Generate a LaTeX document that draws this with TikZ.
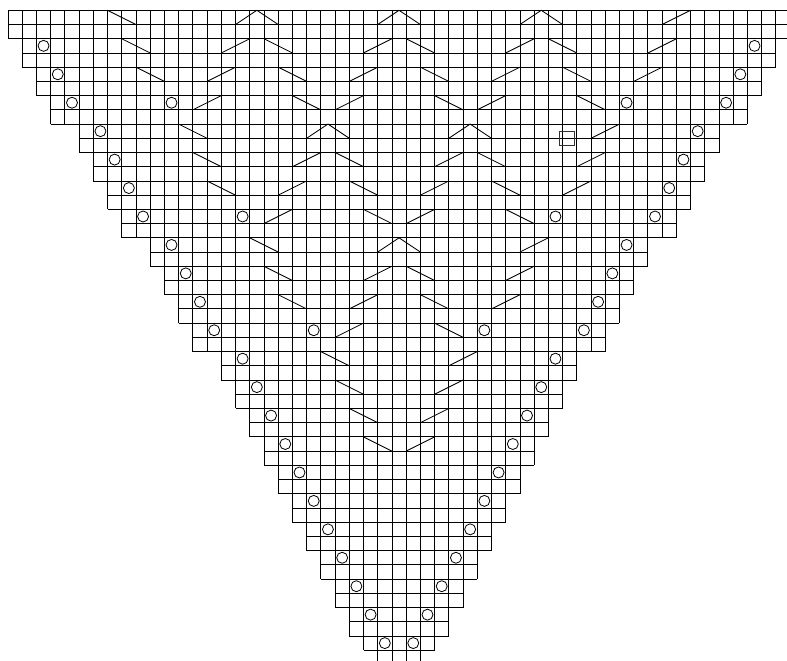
\documentclass[tikz,border=0pt]{standalone}
\tikzset{
  gridline/.style={line width=0.85pt, black},
  decline/.style={line width=0.85pt, black},
  yoring/.style={line width=0.8pt, black},
  oddbox/.style={line width=0.85pt, black!80},
}
% row, column
\newcommand\lineBS[2]{\draw[decline] (#2,#1) -- ++(2,1);}
\newcommand\lineFS[2]{\draw[decline] (#2,#1+1) -- ++(2,-1);}
\newcommand\kpeak[2]{\draw[decline] (#2-1,#1+1) -- (#2+0.5,#1) -- (#2+2,#1+1);}
\newcommand\yoat[2]{\draw[yoring] (#2+0.5,#1+0.5) circle[radius=5.5pt];}
\begin{document}
\begin{tikzpicture}[x=1pt,y=-1pt]
\useasboundingbox (0,0) rectangle (787,661);
\clip (0,0) rectangle (787,661);
\begin{scope}[shift={(8,10.3)}]
\begin{scope}[x=14.22pt,y=-14.22pt]
% grid rows
\foreach \r in {0,...,44}{
  \pgfmathtruncatemacro\p{int(\r/2)}
  \pgfmathtruncatemacro\s{\p+min(int(\p/4),3)}
  \pgfmathtruncatemacro\e{55-\s}
  \draw[gridline] (\s,\r) -- (\e,\r) (\s,\r+1) -- (\e,\r+1);
  \foreach \c in {\s,...,\e}{\draw[gridline] (\c,\r) -- (\c,\r+1);}
}
% partial row below
\draw[gridline] (26,45) -- (29,45);
\foreach \c in {26,...,29}{\draw[gridline] (\c,45) -- (\c,46);}
% edge yarn-overs
\foreach \r in {2,4,...,44}{
  \pgfmathtruncatemacro\p{\r/2}
  \pgfmathtruncatemacro\s{\p+min(int(\p/4),3)+1}
  \pgfmathtruncatemacro\t{54-\s}
  \yoat{\r}{\s}
  \yoat{\r}{\t}
}
% row 0
\lineBS{0}{7} \kpeak{0}{17} \kpeak{0}{27} \kpeak{0}{37} \lineFS{0}{46}
% row 2
\lineBS{2}{8} \lineFS{2}{15} \lineBS{2}{18} \lineFS{2}{25} \lineBS{2}{28} \lineFS{2}{35} \lineBS{2}{38} \lineFS{2}{45}
% row 4
\lineBS{4}{9} \lineFS{4}{14} \lineBS{4}{19} \lineFS{4}{24} \lineBS{4}{29} \lineFS{4}{34} \lineBS{4}{39} \lineFS{4}{44}
% row 6
\yoat{6}{11} \lineFS{6}{13} \lineBS{6}{20} \lineFS{6}{23} \lineBS{6}{30} \lineFS{6}{33} \lineBS{6}{40} \yoat{6}{43}
% row 8
\lineBS{8}{12} \kpeak{8}{22} \kpeak{8}{32} \lineFS{8}{41}
% row 10
\lineBS{10}{13} \lineFS{10}{20} \lineBS{10}{23} \lineFS{10}{30} \lineBS{10}{33} \lineFS{10}{40}
% row 12
\lineBS{12}{14} \lineFS{12}{19} \lineBS{12}{24} \lineFS{12}{29} \lineBS{12}{34} \lineFS{12}{39}
% row 14
\yoat{14}{16} \lineFS{14}{18} \lineBS{14}{25} \lineFS{14}{28} \lineBS{14}{35} \yoat{14}{38}
% row 16
\lineBS{16}{17} \kpeak{16}{27} \lineFS{16}{36}
% row 18
\lineBS{18}{18} \lineFS{18}{25} \lineBS{18}{28} \lineFS{18}{35}
% row 20
\lineBS{20}{19} \lineFS{20}{24} \lineBS{20}{29} \lineFS{20}{34}
% row 22
\yoat{22}{21} \lineFS{22}{23} \lineBS{22}{30} \yoat{22}{33}
% rows 24-30
\lineBS{24}{22} \lineFS{24}{31}
\lineBS{26}{23} \lineFS{26}{30}
\lineBS{28}{24} \lineFS{28}{29}
\lineBS{30}{25} \lineFS{30}{28}
% stray square
\draw[oddbox] (38.77,8.54) rectangle (39.8,9.52);
\end{scope}
\end{scope}
\end{tikzpicture}
\end{document}
